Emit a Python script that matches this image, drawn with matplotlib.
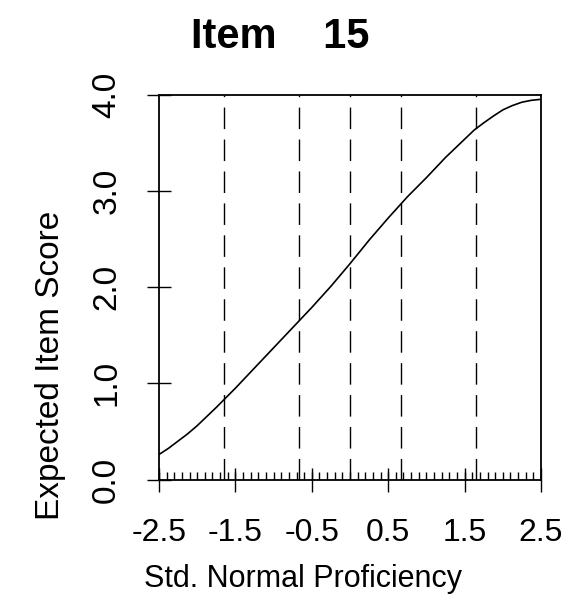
import matplotlib
matplotlib.use("Agg")
import matplotlib.pyplot as plt
from matplotlib import font_manager

plt.rcParams['font.family'] = ['Liberation Sans', 'DejaVu Sans']

# Expected item score curve
theta = [-2.5, -2.375, -2.25, -2.125, -2.0, -1.75, -1.5, -1.25, -1.0, -0.75, -0.5,
         -0.25, 0.0, 0.25, 0.5, 0.75, 1.0, 1.25, 1.5, 1.625, 1.75, 1.875,
         2.0, 2.125, 2.25, 2.375, 2.5]
score = [0.26, 0.325, 0.40, 0.475, 0.56, 0.75, 0.95, 1.16, 1.37, 1.58, 1.79,
         2.01, 2.245, 2.49, 2.72, 2.94, 3.14, 3.35, 3.54, 3.635, 3.71, 3.78,
         3.845, 3.89, 3.925, 3.945, 3.955]

# dashed reference lines (normal quantiles)
ref_x = [-1.645, -0.674, 0.0, 0.674, 1.645]

# rug positions
rug_x = [-2.5, -2.4, -2.3, -2.2, -2.1, -2.0, -1.9, -1.8, -1.7, -1.6, -1.5,
         -1.4, -1.3, -1.2, -1.1, -1.0, -0.9, -0.8, -0.7, -0.6, -0.5,
         -0.4, -0.3, -0.2, -0.1, 0.0, 0.1, 0.2, 0.3, 0.4, 0.5,
         0.6, 0.7, 0.8, 0.9, 1.0, 1.1, 1.2, 1.3, 1.4, 1.5,
         1.6, 1.7, 1.8, 1.9, 2.0, 2.1, 2.2, 2.3, 2.4, 2.5]

xticks = [-2.5, -1.5, -0.5, 0.5, 1.5, 2.5]
xticklabels = ['-2.5', '-1.5', '-0.5', '0.5', '1.5', '2.5']
yticks = [0, 1, 2, 3, 4]
yticklabels = ['0.0', '1.0', '2.0', '3.0', '4.0']

title = 'Item    15'
xlabel = 'Std. Normal Proficiency'
ylabel = 'Expected Item Score'

names = {f.name for f in font_manager.fontManager.ttflist}
if 'Liberation Sans Narrow' in names:
    title_font = ['Liberation Sans Narrow', 'DejaVu Sans']
    title_size = 36
else:
    title_font = ['Liberation Sans', 'DejaVu Sans']
    title_size = 30

W, H = 588, 598
fig = plt.figure(figsize=(W / 100, H / 100), dpi=100)
ax = fig.add_axes([159 / W, 1 - 479.5 / H, (541 - 159) / W, (479.5 - 95) / H])

ax.plot(theta, score, color='black', lw=1.2)
for xv in ref_x:
    ax.axvline(xv, color='black', lw=1.0, dashes=(15.5, 7.5))
for xv in rug_x:
    ax.plot([xv, xv], [0, 0.075], color='black', lw=1.0, solid_capstyle='butt')

ax.set_xlim(-2.5, 2.5)
ax.set_ylim(0, 4)
ax.set_xticks(xticks)
ax.set_xticklabels(xticklabels, fontsize=23)
ax.set_yticks(yticks)
ax.set_yticklabels(yticklabels, fontsize=24, rotation=90, va='center')
ax.tick_params(axis='both', direction='inout', length=17, width=1.0)
ax.tick_params(axis='x', pad=19)
ax.tick_params(axis='y', pad=18)
for sp in ax.spines.values():
    sp.set_linewidth(1.3)

fig.text(280 / W, 1 - 48 / H, title, fontsize=title_size, fontweight='bold',
         family=title_font, ha='center', va='baseline')
fig.text(303 / W, 1 - 587 / H, xlabel, fontsize=22, ha='center', va='baseline')
fig.text(50 / W, 1 - 365 / H, ylabel, fontsize=24, rotation=90,
         ha='center', va='center')

fig.savefig('out.png', dpi=100)
